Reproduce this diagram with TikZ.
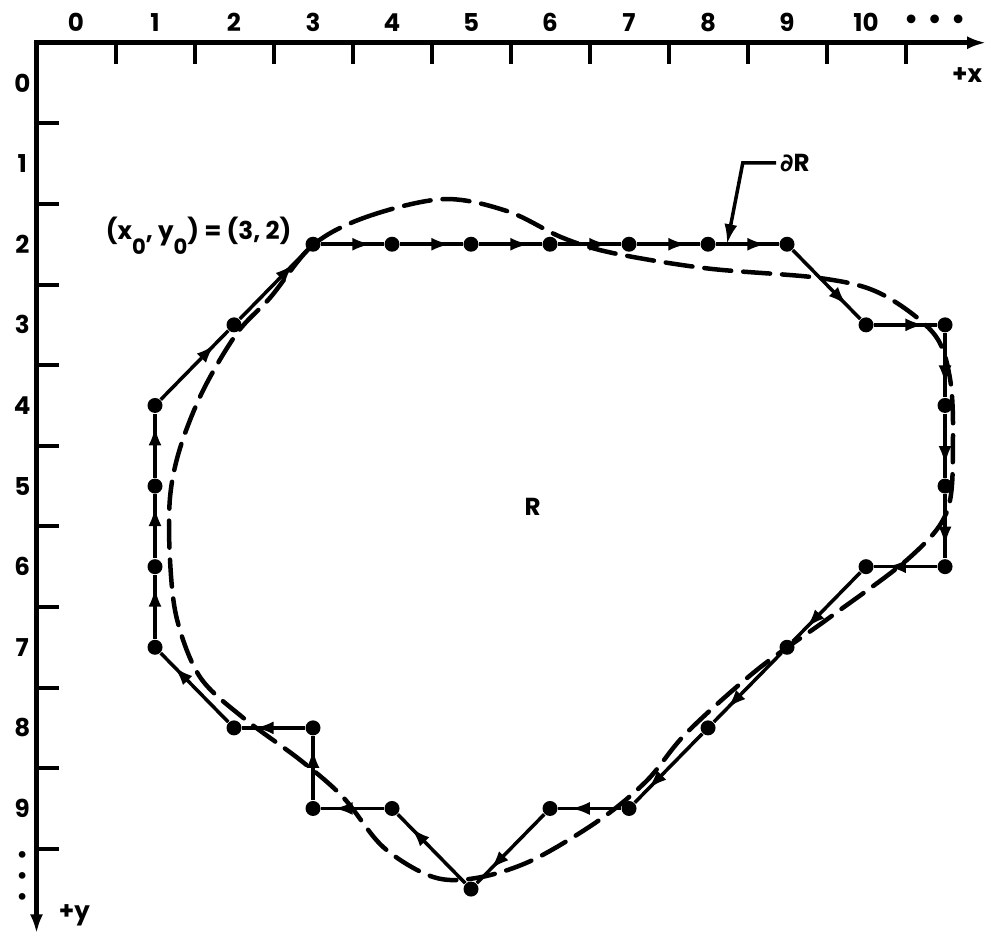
\documentclass[tikz,border=0pt]{standalone}
\usepackage{fontspec}
\setmainfont{Poppins}
\newfontfamily\symfont{DejaVu Sans}
\usetikzlibrary{arrows.meta,decorations.markings,calc}

\newcommand{\subz}{\raisebox{-4.2pt}{\fontsize{6}{6}\selectfont 0}}

\begin{document}
\begin{tikzpicture}[
    x=0.79cm, y=-0.806cm,
    every node/.style={font=\bfseries\fontsize{7}{8}\selectfont, inner sep=1pt},
    axisline/.style={line width=0.045cm,
      {Latex[length=0.19cm, width=0.13cm]}-{Latex[length=0.19cm, width=0.13cm]}},
    tickmark/.style={line width=0.04cm},
    chainpt/.style={circle, fill=black, inner sep=0pt, minimum size=0.15cm},
    chainedge/.style={line width=0.035cm, postaction={decorate},
      decoration={markings, mark=at position 0.8 with {\arrow{Latex[length=0.19cm, width=0.13cm]}}}},
    boundary/.style={line width=0.045cm, dash pattern=on 0.27cm off 0.12cm, line cap=round},
    leader/.style={line width=0.035cm, -{Latex[length=0.2cm, width=0.13cm]}}
  ]
    \useasboundingbox (-0.962,-1.030) rectangle (11.582,10.633);

    % Axes
    \coordinate (corner) at (-0.5,-0.5);
    \coordinate (xend) at (11.52,-0.5);
    \coordinate (yend) at (-0.5,10.55);
    \draw[axisline] (yend) -- (corner) -- (xend);
    \foreach \k in {0,...,10}
      \draw[tickmark] (\k+0.5,-0.5) -- (\k+0.5,-0.24);
    \foreach \k in {0,...,9}
      \draw[tickmark] (-0.5,\k+0.5) -- (-0.22,\k+0.5);

    % Axis labels
    \foreach \k in {0,...,10}
      \node (xl\k) at (\k,-0.75) {\k};
    \foreach \k in {0,...,9}
      \node (yl\k) at (-0.68,\k) {\k};
    \node (xdots) at (10.87,-0.76) {\symfont •\hspace{2.2pt}•\hspace{2.2pt}•};
    \node[align=center, font=\symfont\fontsize{6.6}{6}\selectfont] (ydots) at (-0.68,9.87) {•\\•\\•};
    \node (xlbl) at (11.28,-0.1) {+x};
    \node (ylbl) at (-0.02,10.32) {+y};

    % Continuous boundary
    \draw[boundary] plot[smooth cycle, tension=0.55] coordinates {
      (3.0,2.01) (3.68,1.66) (4.65,1.44) (5.46,1.59) (6.16,1.92) (6.80,2.11)
      (7.99,2.30) (9.42,2.42) (10.18,2.61) (10.85,3.10) (11.06,3.65) (11.10,4.43)
      (11.03,5.30) (10.56,5.88) (9.54,6.63) (8.62,7.28) (7.73,8.06) (7.23,8.65)
      (6.63,9.14) (5.78,9.64) (5.08,9.86) (4.52,9.85) (3.89,9.48) (3.38,8.86)
      (2.84,8.40) (2.11,7.87) (1.57,7.37) (1.28,6.66) (1.19,5.92) (1.19,5.14)
      (1.32,4.52) (1.61,3.81) (2.04,3.10) (2.46,2.66)};

    % Chain code points
    \foreach \px/\py [count=\i from 0] in {3/2,4/2,5/2,6/2,7/2,8/2,9/2,10/3,11/3,
        11/4,11/5,11/6,10/6,9/7,8/8,7/9,6/9,5/10,4/9,3/9,3/8,2/8,1/7,1/6,1/5,1/4,2/3}
      \node[chainpt] (p\i) at (\px,\py) {};

    % Chain code links
    \foreach \i [evaluate=\i as \j using {int(mod(\i+1,27))}] in {0,...,26}
      \draw[chainedge] (p\i) -- (p\j);

    % Labels
    \node[anchor=base east] (start) at ($(p0)+(-0.22,-0.06)$) {(x\subz, y\subz) = (3, 2)};
    \node (reg) at (5.78,5.26) {R};
    \node (dR) at (9.1,0.99) {{\symfont ∂}R};
    \coordinate (bend) at (8.44,0.99);
    \coordinate (tip) at ($(p5)!0.24!(p6)$);
    \draw[leader] (dR.west) -- (bend) -- (tip);
\end{tikzpicture}
\end{document}
